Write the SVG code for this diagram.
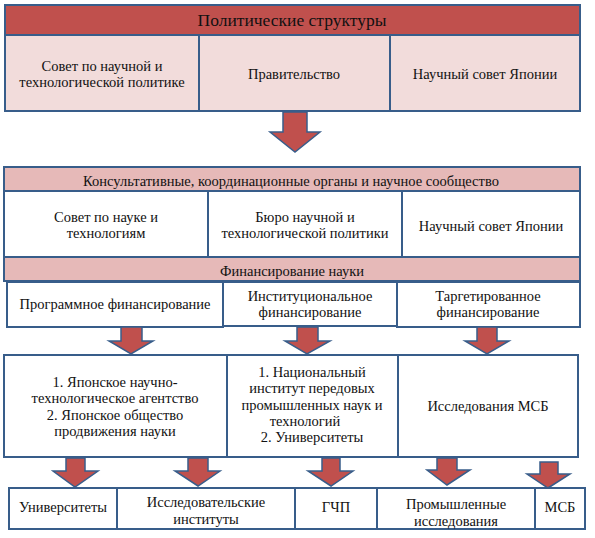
<svg xmlns="http://www.w3.org/2000/svg" width="595" height="538" viewBox="0 0 595 538" font-family="'Liberation Serif', 'DejaVu Serif', serif">
<style>
  .box { stroke: #385d8a; stroke-width: 2; }
  .hdr { fill: #c0504d; }
  .pink { fill: #f2dcdb; }
  .band { fill: #e6b9b8; }
  .white { fill: #ffffff; }
  .arrow { fill: #c0504d; stroke: #385d8a; stroke-width: 1.5; stroke-linejoin: miter; }
  .t { font-family: 'Liberation Serif', 'DejaVu Serif', serif; font-size: 14.5px; fill: #111111; text-anchor: middle; }
  .big { font-size: 17.5px; }
</style>
<defs>
  <clipPath id="clipBand1"><rect x="4" y="167" width="576" height="24"/></clipPath>
  <clipPath id="clipBand2"><rect x="4" y="257" width="576" height="24"/></clipPath>
</defs>
<rect width="595" height="538" fill="#ffffff"/>

<g id="political-header">
  <rect class="box hdr" x="5" y="5" width="575" height="30"/>
  <text class="t big" x="292" y="26">Политические структуры</text>
</g>
<g id="council-st-policy">
  <rect class="box pink" x="5" y="35" width="194" height="76"/>
  <text class="t" x="102" y="71">Совет по научной и</text>
  <text class="t" x="102" y="87">технологической политике</text>
</g>
<g id="government">
  <rect class="box pink" x="199" y="35" width="191" height="76"/>
  <text class="t" x="294" y="79">Правительство</text>
</g>
<g id="science-council-1">
  <rect class="box pink" x="390" y="35" width="190" height="76"/>
  <text class="t" x="485" y="79">Научный совет Японии</text>
</g>

<g id="advisory-header">
  <rect class="box band" x="4" y="167" width="576" height="24"/>
  <text class="t" x="291" y="186" clip-path="url(#clipBand1)">Консультативные, координационные органы и научное сообщество</text>
</g>
<g id="council-st">
  <rect class="box white" x="4" y="191" width="204" height="66"/>
  <text class="t" x="106" y="222">Совет по науке и</text>
  <text class="t" x="106" y="238">технологиям</text>
</g>
<g id="bureau-st-policy">
  <rect class="box white" x="208" y="191" width="194" height="66"/>
  <text class="t" x="305" y="222">Бюро научной и</text>
  <text class="t" x="305" y="238">технологической политики</text>
</g>
<g id="science-council-2">
  <rect class="box white" x="402" y="191" width="178" height="66"/>
  <text class="t" x="491" y="231">Научный совет Японии</text>
</g>

<g id="financing-header">
  <rect class="box band" x="4" y="257" width="576" height="24"/>
  <text class="t" x="292" y="276" clip-path="url(#clipBand2)">Финансирование науки</text>
</g>
<g id="program-funding">
  <rect class="box white" x="7" y="282" width="216" height="45"/>
  <text class="t" x="115" y="309">Программное финансирование</text>
</g>
<g id="institutional-funding">
  <rect class="box white" x="223" y="282" width="174" height="44"/>
  <text class="t" x="310" y="301">Институциональное</text>
  <text class="t" x="310" y="317">финансирование</text>
</g>
<g id="targeted-funding">
  <rect class="box white" x="397" y="282" width="183" height="45"/>
  <text class="t" x="488" y="301">Таргетированное</text>
  <text class="t" x="488" y="317">финансирование</text>
</g>

<g id="agencies">
  <rect class="box white" x="4" y="355" width="223" height="102"/>
  <text class="t" x="115" y="387">1. Японское научно-</text>
  <text class="t" x="115" y="403">технологическое агентство</text>
  <text class="t" x="115" y="420">2. Японское общество</text>
  <text class="t" x="115" y="436">продвижения науки</text>
</g>
<g id="national-institute">
  <rect class="box white" x="227" y="355" width="171" height="102"/>
  <text class="t" x="312" y="377">1. Национальный</text>
  <text class="t" x="312" y="393">институт передовых</text>
  <text class="t" x="312" y="410">промышленных наук и</text>
  <text class="t" x="305" y="426">технологий</text>
  <text class="t" x="312" y="442">2. Университеты</text>
</g>
<g id="sme-research">
  <rect class="box white" x="398" y="355" width="180" height="102"/>
  <text class="t" x="488" y="411">Исследования МСБ</text>
</g>

<g id="universities">
  <rect class="box white" x="9" y="488" width="108" height="41"/>
  <text class="t" x="63" y="512">Университеты</text>
</g>
<g id="research-institutes">
  <rect class="box white" x="117" y="488" width="178" height="41"/>
  <text class="t" x="206" y="507">Исследовательские</text>
  <text class="t" x="206" y="524">институты</text>
</g>
<g id="ppp">
  <rect class="box white" x="295" y="488" width="82" height="41"/>
  <text class="t" x="336" y="512">ГЧП</text>
</g>
<g id="industrial-research">
  <rect class="box white" x="377" y="488" width="158" height="41"/>
  <text class="t" x="456" y="509">Промышленные</text>
  <text class="t" x="456" y="526">исследования</text>
</g>
<g id="sme">
  <rect class="box white" x="535" y="488" width="50" height="41"/>
  <text class="t" x="560" y="512">МСБ</text>
</g>

<g id="connectors">
  <polygon class="arrow" points="283,112 307,112 307,132 320,132 295,152 270,132 283,132"/>
  <polygon class="arrow" points="121,327 142,327 142,341 153,341 131,354 109,341 121,341"/>
  <polygon class="arrow" points="297,327 318,327 318,341 330,341 307,354 285,341 297,341"/>
  <polygon class="arrow" points="477,327 497,327 497,341 509,341 487,354 465,341 477,341"/>
  <polygon class="arrow" points="66,458 85,458 85,471 98,471 75,487 53,471 66,471"/>
  <polygon class="arrow" points="188,458 208,458 208,471 220,471 198,486 175,471 188,471"/>
  <polygon class="arrow" points="322,458 340,458 340,471 353,471 331,486 308,471 322,471"/>
  <polygon class="arrow" points="437,458 457,458 457,470 470,470 447,485 427,470 437,470"/>
  <polygon class="arrow" points="540,462 558,462 558,474 570,474 548,488 527,474 540,474"/>
</g>
</svg>
